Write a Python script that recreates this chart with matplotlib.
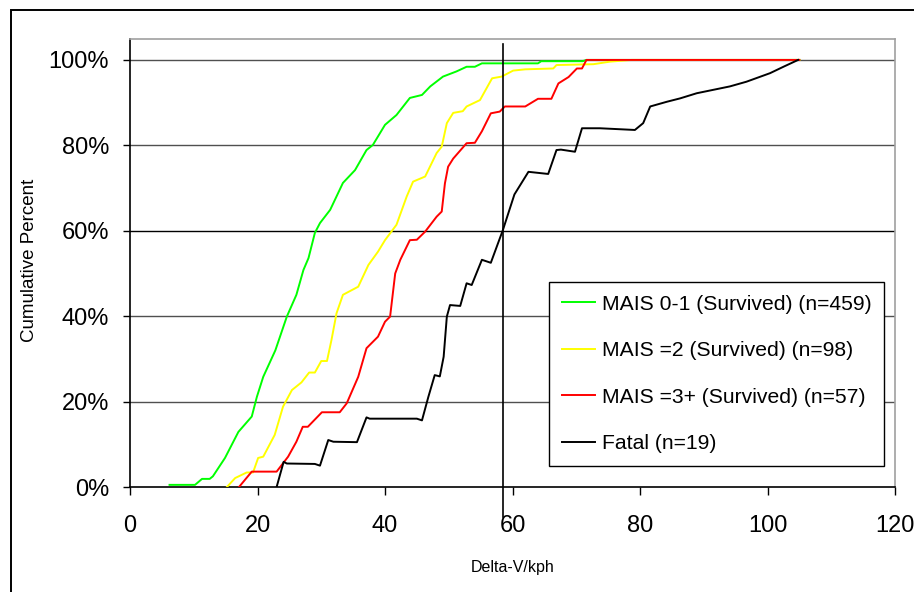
import matplotlib
matplotlib.use("Agg")
import matplotlib.pyplot as plt
from matplotlib.patches import Rectangle
from matplotlib.ticker import FuncFormatter

# ---- data ----
green_x = [6.2, 10.2, 11.3, 12.5, 13.0, 14.9, 17.0, 19.1, 19.9, 20.9, 22.8, 24.6, 26.1, 27.2, 28.0,
           29.0, 29.8, 31.4, 33.4, 35.3, 37.1, 38.1, 40.0, 41.8, 43.9, 45.8, 47.1, 49.1, 51.2, 52.8,
           54.1, 55.2, 64.0, 64.5, 71.0, 71.6, 105]
green_y = [0.5, 0.5, 1.9, 1.9, 2.5, 6.8, 12.9, 16.5, 21.1, 25.8, 32.0, 39.9, 45.0, 50.8, 53.6,
           59.5, 61.8, 64.9, 71.2, 74.2, 78.9, 80.1, 84.8, 87.1, 91.1, 91.8, 93.8, 96.1, 97.3, 98.4,
           98.4, 99.2, 99.2, 99.7, 99.7, 100, 100]

yellow_x = [15.2, 16.5, 18.3, 19.3, 20.1, 20.9, 22.7, 24.0, 25.4, 26.9, 28.1, 29.0, 30.0, 30.9,
            31.6, 32.4, 33.4, 35.8, 37.4, 38.9, 40.0, 41.8, 43.4, 44.4, 46.3, 48.1, 48.9, 49.7,
            50.7, 52.2, 52.8, 54.9, 56.8, 58.3, 60.1, 62.0, 66.4, 66.9, 72.7, 75.3, 78.7, 105]
yellow_y = [0, 2.1, 3.4, 3.4, 6.8, 7.1, 12.2, 18.8, 22.7, 24.5, 26.8, 26.8, 29.5, 29.5,
            34.4, 40.7, 45.0, 46.9, 52.0, 55.1, 57.8, 61.4, 68.0, 71.5, 72.7, 78.2, 79.7, 85.2,
            87.6, 88.0, 89.1, 90.6, 95.7, 96.1, 97.5, 97.8, 98.0, 98.8, 99.0, 99.6, 100, 100]

red_x = [17.1, 19.1, 23.0, 24.8, 26.1, 27.1, 27.9, 30.1, 32.9, 34.0, 35.8, 37.1, 38.9, 40.0,
         40.8, 41.6, 42.4, 43.9, 45.0, 46.3, 48.1, 48.9, 49.4, 49.9, 50.7, 52.8, 54.1, 55.2,
         56.6, 58.0, 58.8, 62.0, 64.0, 66.1, 67.2, 68.8, 70.1, 70.9, 71.6, 105]
red_y = [0, 3.6, 3.6, 7.1, 10.6, 14.1, 14.1, 17.5, 17.5, 19.6, 25.8, 32.5, 35.2, 38.7,
         39.9, 50.0, 53.2, 57.8, 57.9, 59.8, 63.3, 64.5, 71.1, 75.0, 76.9, 80.5, 80.6, 83.3,
         87.5, 87.9, 89.1, 89.1, 90.9, 90.9, 94.5, 96.0, 98.0, 98.0, 100, 100]

black_x = [23.0, 24.1, 24.6, 29.0, 29.8, 31.1, 31.9, 35.6, 37.1, 37.6, 45.0, 45.8, 46.8, 47.8,
           48.6, 49.2, 49.7, 50.2, 51.8, 52.8, 53.6, 55.2, 56.6, 58.5, 60.3, 62.5, 65.6, 66.9,
           67.6, 69.8, 70.9, 73.7, 79.2, 80.5, 81.6, 84.2, 86.3, 88.9, 94.1, 96.7, 100.4, 102.5, 104.8]
black_y = [0, 5.9, 5.5, 5.4, 5.0, 11.0, 10.6, 10.5, 16.3, 16.0, 16.0, 15.6, 21.1, 26.2,
           25.9, 30.5, 39.9, 42.6, 42.4, 47.7, 47.3, 53.2, 52.5, 60.2, 68.5, 73.8, 73.3, 78.9,
           79.0, 78.5, 84.0, 84.0, 83.6, 85.2, 89.1, 90.2, 91.0, 92.2, 93.8, 94.9, 96.9, 98.4, 100]

labels = ["MAIS 0-1 (Survived) (n=459)", "MAIS =2 (Survived) (n=98)",
          "MAIS =3+ (Survived) (n=57)", "Fatal (n=19)"]
colors = ["#00FF00", "#FFFF00", "#FF0000", "#000000"]

ref_x = 58.5   # vertical reference line (Delta-V)
ref_y = 60     # horizontal reference line (percent)

x_ticks = [0, 20, 40, 60, 80, 100, 120]
y_ticks = [0, 20, 40, 60, 80, 100]

# ---- figure ----
plt.rcParams["font.family"] = ["Liberation Sans", "DejaVu Sans"]

fig = plt.figure(figsize=(9.14, 5.92), dpi=100)
ax = fig.add_axes([130 / 914, 1 - 487 / 592, (895 - 130) / 914, (487 - 39) / 592])

ax.set_xlim(0, 120)
ax.set_ylim(0, 104.9)

for y in y_ticks[1:]:
    if y != ref_y:
        ax.axhline(y, color="#505050", lw=1.0, zorder=1)
ax.axhline(ref_y, color="black", lw=1.0, zorder=1)

series = [(green_x, green_y), (yellow_x, yellow_y), (red_x, red_y), (black_x, black_y)]
for (xs, ys), c, lab in zip(series, colors, labels):
    ax.plot(xs, ys, color=c, lw=1.4, label=lab, zorder=3, solid_joinstyle="round")

ax.plot([ref_x, ref_x], [-7.0, 103.7], color="black", lw=1.2, clip_on=False, zorder=4)

ax.set_xticks(x_ticks)
ax.set_yticks(y_ticks)
ax.yaxis.set_major_formatter(FuncFormatter(lambda v, p: f"{int(v)}%"))
ax.tick_params(axis="both", direction="out", colors="black", labelsize=17)
ax.tick_params(axis="x", length=6, width=1, pad=14)
ax.tick_params(axis="y", length=5, width=1, pad=10)

for s in ["left", "bottom"]:
    ax.spines[s].set_color("black")
    ax.spines[s].set_linewidth(1.2)
for s in ["top", "right"]:
    ax.spines[s].set_color("#a0a0a0")
    ax.spines[s].set_linewidth(1.2)

ax.set_xlabel("Delta-V/kph", fontsize=11.5, labelpad=17)
fig.text(30 / 914, 1 - 260 / 592, "Cumulative Percent", rotation=90, fontsize=13.5,
         ha="center", va="center")

fs = 15.2
leg = ax.legend(loc="upper left", bbox_to_anchor=(549 / 914, 1 - 282 / 592),
                bbox_transform=fig.transFigure, fontsize=fs, frameon=True, fancybox=False,
                framealpha=1, edgecolor="black", handlelength=1.6, handletextpad=0.3,
                labelspacing=1.3, borderpad=0.6, borderaxespad=0)
leg.get_frame().set_linewidth(1.0)
for h in leg.get_lines():
    h.set_linewidth(1.4)

# outer chart border
fig.add_artist(Rectangle((11 / 914, -0.2), 1.2, 1 - 10 / 592 + 0.2, transform=fig.transFigure,
                         fill=False, edgecolor="black", lw=1.4, clip_on=False))

fig.savefig("out.png", dpi=100)
